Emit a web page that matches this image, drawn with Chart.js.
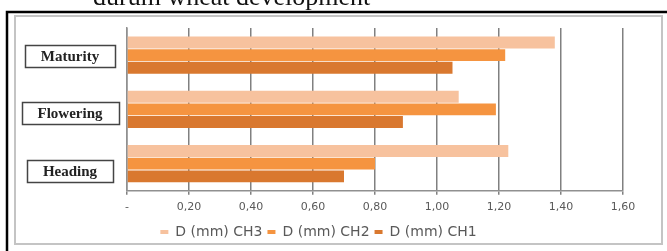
<!DOCTYPE html>
<html>
<head>
<meta charset="utf-8">
<script src="https://cdn.jsdelivr.net/npm/chart.js@4"></script>
<style>
  html, body { margin: 0; padding: 0; background: #fff; }
  #wrap { width: 667px; height: 251px; position: relative; }
</style>
</head>
<body>
<div id="wrap"><canvas id="myChart"></canvas></div>
<script>
const stages = ['Maturity', 'Flowering', 'Heading'];
const seriesNames = ['D (mm) CH3', 'D (mm) CH2', 'D (mm) CH1'];
const ch3 = [1.38, 1.07, 1.23];
const ch2 = [1.22, 1.19, 0.80];
const ch1 = [1.05, 0.89, 0.70];
const xTicks = [0, 0.2, 0.4, 0.6, 0.8, 1.0, 1.2, 1.4, 1.6];
const caption = 'durum wheat development';

const colors = ['#f7c29e', '#f59440', '#d9782f'];
const labelFont = 'bold 15px "Liberation Serif"';

// scanned page frame, caption and the boxed stage labels
const framePlugin = {
  id: 'frame',
  beforeDraw(chart) {
    const ctx = chart.ctx;
    ctx.save();
    ctx.fillStyle = '#fff';
    ctx.fillRect(0, 0, chart.width, chart.height);
    ctx.fillStyle = '#111';
    ctx.font = '26px "Liberation Serif"';
    ctx.textBaseline = 'alphabetic';
    ctx.fillText(caption, 93, 5);
    ctx.strokeStyle = '#000';
    ctx.lineWidth = 2.5;
    ctx.beginPath();
    ctx.moveTo(7, 260);
    ctx.lineTo(7, 12);
    ctx.lineTo(667, 12);
    ctx.stroke();
    ctx.strokeStyle = '#c4c4c4';
    ctx.lineWidth = 2;
    ctx.strokeRect(15, 16, 647, 228);
    ctx.restore();
  },
  afterDraw(chart) {
    const ctx = chart.ctx;
    const y = chart.scales.y;
    const cx = 70;
    ctx.save();
    ctx.font = labelFont;
    ctx.textAlign = 'center';
    ctx.textBaseline = 'middle';
    ctx.strokeStyle = '#444';
    ctx.lineWidth = 1.5;
    stages.forEach((s, i) => {
      const w = ctx.measureText(s).width + 32;
      const py = y.getPixelForTick(i) + 1 + i * 3;
      ctx.strokeRect(Math.round(cx - w / 2) + 0.5, Math.round(py - 11) + 0.5, Math.round(w), 22);
      ctx.fillStyle = '#222';
      ctx.fillText(s, cx, py + 1);
    });
    ctx.restore();
  }
};

const datasets = [ch3, ch2, ch1].map((vals, i) => ({
  label: seriesNames[i],
  data: vals,
  backgroundColor: colors[i],
  borderWidth: 0,
  categoryPercentage: 0.7,
  barPercentage: 0.94
}));

const config = {
  type: 'bar',
  data: { labels: stages, datasets: datasets },
  options: {
    indexAxis: 'y',
    responsive: true,
    maintainAspectRatio: false,
    animation: false,
    layout: { padding: { top: 28, right: 44, bottom: 2, left: 14 } },
    plugins: {
      tooltip: { enabled: false },
      legend: {
        position: 'bottom',
        labels: {
          boxWidth: 8,
          boxHeight: 4,
          padding: 5,
          color: '#595959',
          font: { family: '"DejaVu Sans"', size: 14 }
        }
      }
    },
    scales: {
      x: {
        min: 0,
        max: 1.6,
        afterBuildTicks: (axis) => { axis.ticks = xTicks.map((v) => ({ value: v })); },
        grid: { color: '#808080', lineWidth: 1.5, tickLength: 4 },
        border: { color: '#909090', width: 1.5 },
        ticks: {
          padding: 6,
          color: '#595959',
          font: { family: '"DejaVu Sans"', size: 11 },
          callback: (v) => v === 0 ? '-' : v.toFixed(2).replace('.', ',')
        }
      },
      y: {
        afterFit: (axis) => { axis.width = 113; },
        grid: { display: false },
        border: { color: '#909090', width: 1.5 },
        ticks: { display: false }
      }
    }
  },
  plugins: [framePlugin]
};

window.onload = () => {
  new Chart(document.getElementById('myChart'), config);
};
</script>
</body>
</html>
